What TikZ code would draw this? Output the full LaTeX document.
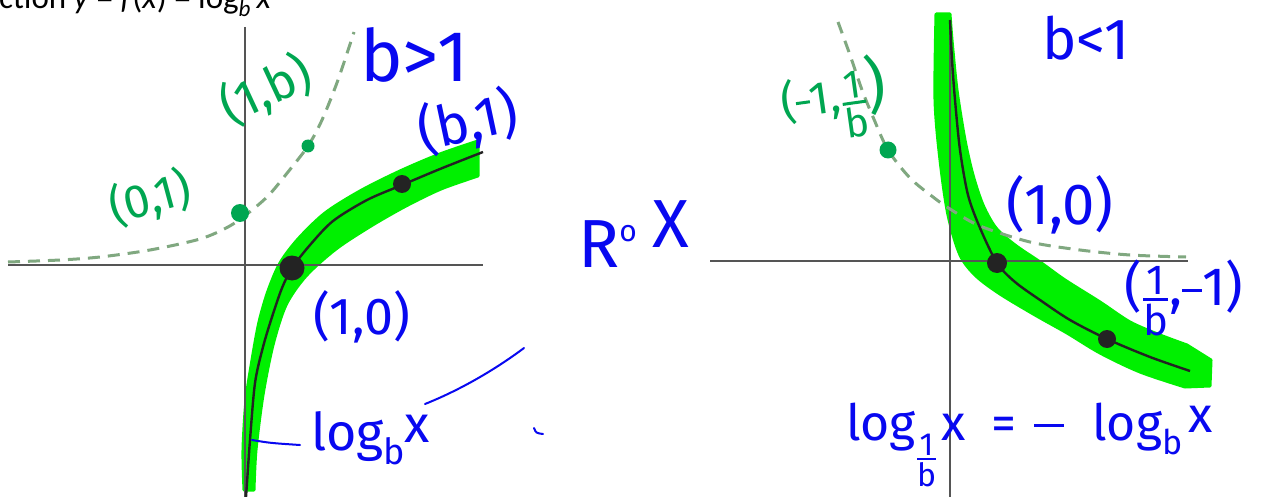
\documentclass[tikz,border=0pt]{standalone}
\usepackage{amsmath}
\usepackage{fontspec}
\newfontfamily\handfont{Fira Sans}
\newfontfamily\calfont{Carlito}
\definecolor{hblue}{RGB}{8,8,240}
\definecolor{hgreen}{RGB}{0,166,81}
\definecolor{hlime}{RGB}{0,240,0}
\definecolor{dashg}{RGB}{128,168,128}
\definecolor{axisg}{RGB}{85,85,85}
\definecolor{curvek}{RGB}{35,35,35}
\newcommand\fs[1]{\fontsize{#1}{#1}\selectfont}
\newcommand\hfrac[3][3pt]{\ensuremath{\genfrac{}{}{#1}{}{\mbox{#2}}{\mbox{#3}}}}
\newcommand\hminus[1]{\rule[0.26em]{#1}{3pt}}
\begin{document}
\begin{tikzpicture}[x=1pt,y=-1pt,
  axis/.style={draw=axisg,line width=2.2pt},
  curve/.style={draw=curvek,line width=2.4pt},
  expo/.style={draw=dashg,line width=3pt,dash pattern=on 12pt off 8pt},
  band/.style={fill=hlime,draw=hlime,line width=3pt,line join=round},
  bt/.style={text=hblue,inner sep=0pt,font=\handfont},
  gt/.style={text=hgreen,inner sep=0pt,font=\handfont},
  pointer/.style={draw=hblue,line width=2pt,line cap=round}]
\useasboundingbox (0,0) rectangle (1265,497);
\fill[white] (0,0) rectangle (1265,497);
% top cut-off caption
\node[anchor=base west,inner sep=0pt,font=\calfont\fs{33}] (cap) at (-1,9)
  {ction \textit{y} = \textit{f}(\textit{x}) = log\textsubscript{\textit{b}}\,\textit{x}};

% ---------- left graph ----------
\fill[band] plot[smooth] coordinates {(478,141) (440,154) (400,171) (360,191) (325,213) (298,239) (280,263) (268,291) (259,322) (252,360) (246,400) (243,450) (244,490)}
  -- plot[smooth] coordinates {(254,490) (256,450) (263,395) (273,345) (286,305) (306,276) (336,249) (371,226) (406,206) (441,189) (478,176)} -- cycle;
\draw[axis] (245,27) -- (245,497);
\draw[axis] (8,265) -- (483,265);
\draw[expo] plot[smooth] coordinates {(8,262) (60,260) (100,257) (150,250) (200,239) (228,227) (247,214) (268,196) (288,172) (308,146) (322,120) (338,80) (354,32)};
\draw[curve] plot[smooth] coordinates {(246,497) (247,483) (250,440) (255,383) (263,347) (272,317) (282,288) (292,268) (310,245) (333,221) (367,200) (402,185) (440,169) (483,152)};
\fill[curvek] (292,268) circle (12.5);
\fill[curvek] (402,184) circle (9);
\fill[hgreen] (240,213) circle (9);
\fill[hgreen] (308,146) circle (6.5);

\node[bt,anchor=base west,font=\handfont\fs{72}] (bgt) at (360,82) {b>1};
\node[bt,rotate=12,font=\handfont\fs{56}] (b1) at (468,122) {(b,1)};
\node[bt,font=\handfont\fs{52}] (l10) at (362,317) {(1,0)};
\node[gt,rotate=15,font=\handfont\fs{47}] (o1) at (150,198) {(0,1)};
\node[gt,rotate=25,font=\handfont\fs{50}] (ib) at (266,90) {(1,b)};
\node[bt,anchor=base west] (logb) at (311,450)
  {\fs{52}log\raisebox{-0.28em}{\fs{36}b}\raisebox{0.14em}{x}};
\coordinate (pa) at (252,440);
\coordinate (pb) at (300,445);
\draw[pointer] (pa) .. controls (270,443) .. (pb);
\coordinate (qa) at (425,404);
\coordinate (qb) at (524,348);
\draw[pointer] (qa) .. controls (465,388) and (500,366) .. (qb);
\coordinate (ta) at (534,428);
\coordinate (tb) at (543,434);
\draw[pointer] (ta) .. controls (536,433) .. (tb);

% middle text
\node[bt,anchor=base west] (rox) at (578,267)
  {\fs{68}R\raisebox{26pt}{\fs{30}o}\hspace{16pt}\raisebox{20pt}{X}};

% ---------- right graph ----------
\fill[band] plot[smooth] coordinates {(936,14) (935,100) (940,160) (948,215) (960,255) (976,276) (1000,294) (1035,315) (1067,333) (1100,353) (1140,372) (1185,387)}
  -- (1210,386) -- (1211,360) --
  plot[smooth] coordinates {(1187,345) (1160,335) (1130,322) (1100,302) (1065,280) (1040,262) (1015,245) (996,228) (983,205) (973,175) (965,140) (957,90) (952,40) (950,14)} -- cycle;
\draw[axis] (950,20) -- (950,497);
\draw[axis] (710,261) -- (1188,261);
\draw[expo] plot[smooth] coordinates {(838,22) (850,55) (862,90) (873,117) (888,150) (910,178) (933,197) (950,209) (980,226) (1030,242) (1080,250) (1130,255) (1186,257)};
\draw[curve] plot[smooth] coordinates {(950,20) (952,60) (955,100) (960,150) (968,195) (980,228) (997,263) (1015,282) (1040,300) (1070,320) (1107,339) (1150,357) (1190,371)};
\fill[curvek] (997,263) circle (10);
\fill[curvek] (1107,339) circle (9);
\fill[hgreen] (888,150) circle (8.5);

\node[bt,anchor=base west,font=\handfont\fs{58}] (blt) at (1042,60) {b<1};
\node[bt,font=\handfont\fs{58}] (r10) at (1060,205) {(1,0)};
\node[gt,rotate=8] (m1b) at (834,100)
  {\fs{46}(\hminus{14pt}1,\hfrac{\fs{40}1}{\fs{40}b}\fs{62})};
\node[bt] (ibm) at (1184,298)
  {\fs{54}(\hfrac{\fs{42}1}{\fs{42}b},\hminus{20pt}1)};
\node[bt,anchor=base west] (eq) at (846,440)
  {\fs{50}log\raisebox{-0.5em}{\fs{32}\hfrac[2.5pt]{1}{b}}\hspace{4pt}x\hspace{26pt}=\hspace{18pt}\hminus{30pt}\hspace{28pt}log\raisebox{-0.28em}{\fs{34}b}\hspace{6pt}\raisebox{0.15em}{x}};
\end{tikzpicture}
\end{document}
